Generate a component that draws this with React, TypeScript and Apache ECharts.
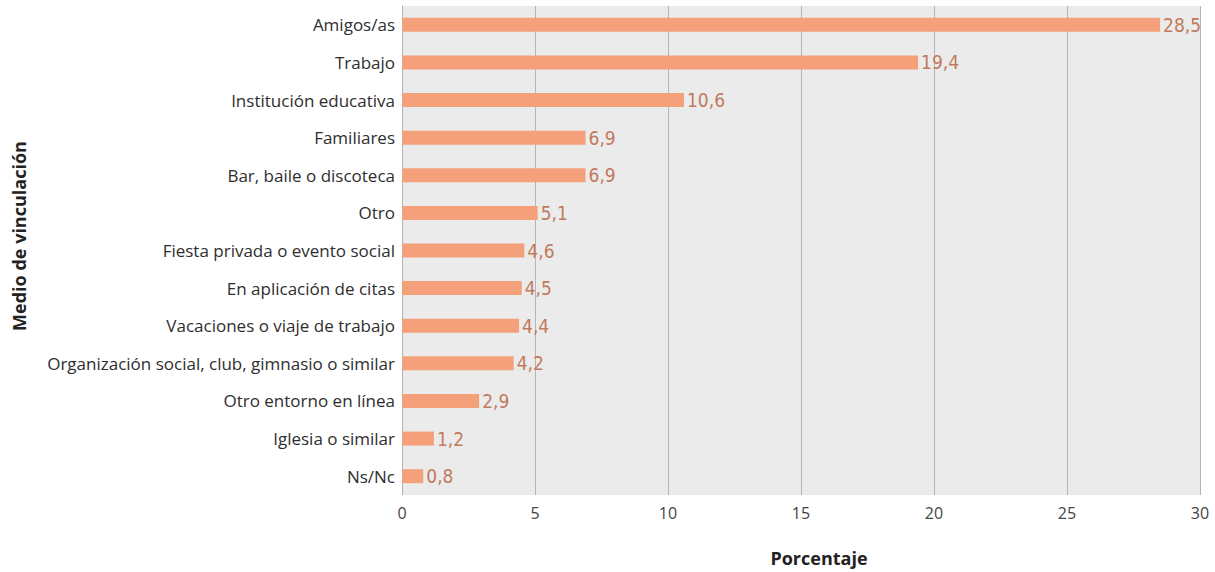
import React, { useEffect, useRef } from "react";
import * as echarts from "echarts";

const categories = [
  "Amigos/as",
  "Trabajo",
  "Institución educativa",
  "Familiares",
  "Bar, baile o discoteca",
  "Otro",
  "Fiesta privada o evento social",
  "En aplicación de citas",
  "Vacaciones o viaje de trabajo",
  "Organización social, club, gimnasio o similar",
  "Otro entorno en línea",
  "Iglesia o similar",
  "Ns/Nc",
];
const values = [28.5, 19.4, 10.6, 6.9, 6.9, 5.1, 4.6, 4.5, 4.4, 4.2, 2.9, 1.2, 0.8];
const xTicks = [0, 5, 10, 15, 20, 25, 30];

export default function App() {
  const ref = useRef<HTMLDivElement>(null);
  useEffect(() => {
    if (!ref.current) return;
    const chart = echarts.init(ref.current, undefined, { renderer: "svg" });
    chart.setOption({
      animation: false,
      backgroundColor: "#ffffff",
      grid: { left: 402, right: 15, top: 6, bottom: 77, containLabel: false, show: true, backgroundColor: "#ebebeb", borderWidth: 0 },
      xAxis: {
        type: "value",
        min: xTicks[0],
        max: xTicks[xTicks.length - 1],
        interval: 5,
        axisLine: { show: false },
        axisTick: { show: false },
        splitLine: { show: true, lineStyle: { color: "#b4b4b4", width: 1 } },
        axisLabel: { color: "#444444", fontSize: 16, fontFamily: "'Open Sans'", margin: 10 },
      },
      yAxis: {
        type: "category",
        data: categories,
        inverse: true,
        axisLine: { show: true, lineStyle: { color: "#b4b4b4", width: 1 } },
        axisTick: { show: false },
        axisLabel: { color: "#2e2e2e", fontSize: 17, fontFamily: "'Open Sans'", margin: 7 },
      },
      series: [
        {
          type: "bar",
          data: values,
          barWidth: 14,
          itemStyle: { color: "#f4a07a" },
          label: {
            show: true,
            position: "right",
            distance: 3,
            color: "#c27a5c",
            fontSize: 19,
            fontFamily: "'DejaVu Sans Condensed', 'Liberation Sans Narrow', sans-serif",
            formatter: (p: any) => Number(p.value).toFixed(1).replace(".", ","),
          },
        },
      ],
      graphic: [
        {
          type: "text",
          x: 819,
          y: 558,
          style: { text: "Porcentaje", fontSize: 18, fontWeight: "bold", fill: "#222222", fontFamily: "'Open Sans'", align: "center", verticalAlign: "middle" },
        },
        {
          type: "text",
          x: 19,
          y: 236,
          rotation: Math.PI / 2,
          style: { text: "Medio de vinculación", fontSize: 18, fontWeight: "bold", fill: "#222222", fontFamily: "'Open Sans'", align: "center", verticalAlign: "middle" },
        },
      ],
    });
    return () => chart.dispose();
  }, []);
  return <div ref={ref} style={{ position: "fixed", left: 0, top: 0, width: 1215, height: 572 }} />;
}
